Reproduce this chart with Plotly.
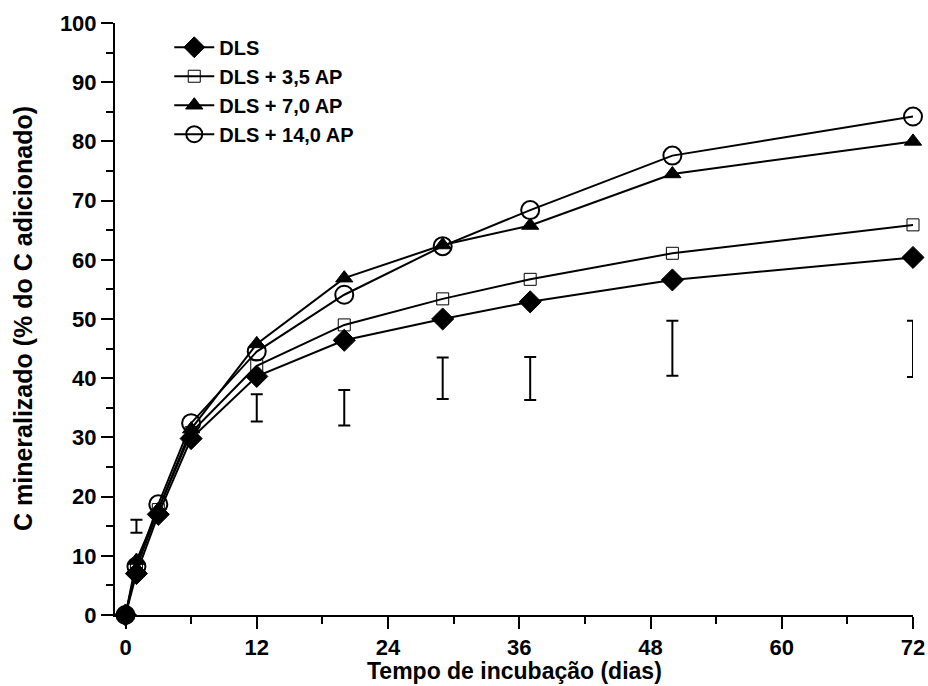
import plotly.graph_objects as go

days = [0, 1, 3, 6, 12, 20, 29, 37, 50, 72]
dls = [0, 7.0, 17.0, 29.8, 40.3, 46.4, 50.0, 52.9, 56.6, 60.4]
dls_35 = [0, 8.0, 17.8, 30.8, 42.1, 49.0, 53.4, 56.7, 61.1, 65.9]
dls_70 = [0, 9.2, 17.8, 31.4, 45.8, 56.9, 62.5, 65.8, 74.5, 80.0]
dls_140 = [0, 8.2, 18.7, 32.4, 44.5, 54.1, 62.3, 68.4, 77.6, 84.2]

err_days = [1, 12, 20, 29, 37, 50, 72]
err_low = [13.9, 32.7, 32.0, 36.5, 36.3, 40.4, 40.2]
err_high = [16.1, 37.3, 38.0, 43.5, 43.6, 49.7, 49.7]

names = ["DLS", "DLS + 3,5 AP", "DLS + 7,0 AP", "DLS + 14,0 AP"]
x_title = "Tempo de incubação (dias)"
y_title = "C mineralizado (% do C adicionado)"
FONT = "Liberation Sans, Arial, sans-serif"

fig = go.Figure()

styles = [
    (dls, dict(symbol="diamond", size=17, color="black", line=dict(color="black", width=1))),
    (dls_35, dict(symbol="square-open", size=12, color="black", line=dict(color="black", width=1))),
    (dls_70, dict(symbol="triangle-up", size=15, color="black", line=dict(color="black", width=1))),
    (dls_140, dict(symbol="circle-open", size=18, color="black", line=dict(color="black", width=2))),
]

for name, (vals, mk) in zip(names, styles):
    fig.add_trace(go.Scatter(
        x=days, y=vals, name=name, mode="lines+markers",
        line=dict(color="black", width=2), marker=mk, cliponaxis=False,
    ))

centers = [(h + l) / 2 for h, l in zip(err_high, err_low)]
halfs = [(h - l) / 2 for h, l in zip(err_high, err_low)]
fig.add_trace(go.Scatter(
    x=err_days, y=centers, mode="markers", showlegend=False,
    marker=dict(size=1, color="rgba(0,0,0,0)"),
    error_y=dict(type="data", array=halfs, symmetric=True, color="black",
                 thickness=2, width=6),
))

fig.update_layout(
    width=928, height=686,
    margin=dict(l=115, r=15, t=23, b=71),
    paper_bgcolor="white", plot_bgcolor="white",
    font=dict(family=FONT, color="black", size=22, weight="bold"),
    showlegend=True,
    legend=dict(x=0.068, y=0.992, xanchor="left", yanchor="top",
                bgcolor="rgba(0,0,0,0)", font=dict(size=20, weight="bold"),
                tracegroupgap=0, itemwidth=40),
    annotations=[
        dict(text=x_title, xref="paper", yref="paper", x=0.5, y=0,
             xanchor="center", yanchor="middle", yshift=-56, showarrow=False,
             font=dict(size=23, weight="bold")),
        dict(text=y_title, xref="paper", yref="paper", x=0, y=0.5,
             xanchor="center", yanchor="middle", xshift=-92, textangle=-90,
             showarrow=False, font=dict(size=25, weight="bold")),
    ],
)

fig.update_xaxes(
    range=[-0.96, 72], tickmode="array", tickvals=[0, 12, 24, 36, 48, 60, 72],
    automargin=False,
    showgrid=False, zeroline=False, showline=True, linecolor="black", linewidth=2,
    ticks="outside", ticklen=12, tickwidth=2, tickcolor="black",
    minor=dict(tickvals=[6, 18, 30, 42, 54, 66], ticks="outside", ticklen=7,
               tickwidth=2, tickcolor="black", showgrid=False),
    tickfont=dict(size=22, weight="bold"), ticklabelstandoff=0,
)
fig.update_yaxes(
    range=[0, 100], tickmode="array", tickvals=list(range(0, 101, 10)),
    automargin=False,
    showgrid=False, zeroline=False, showline=True, linecolor="black", linewidth=2,
    ticks="outside", ticklen=12, tickwidth=2, tickcolor="black",
    minor=dict(tickvals=list(range(5, 100, 10)), ticks="outside", ticklen=7,
               tickwidth=2, tickcolor="black", showgrid=False),
    tickfont=dict(size=22, weight="bold"),
)

fig.write_html("out.html", config={"displayModeBar": False},
               post_script="document.body.style.margin='0';document.body.style.overflow='hidden';")
